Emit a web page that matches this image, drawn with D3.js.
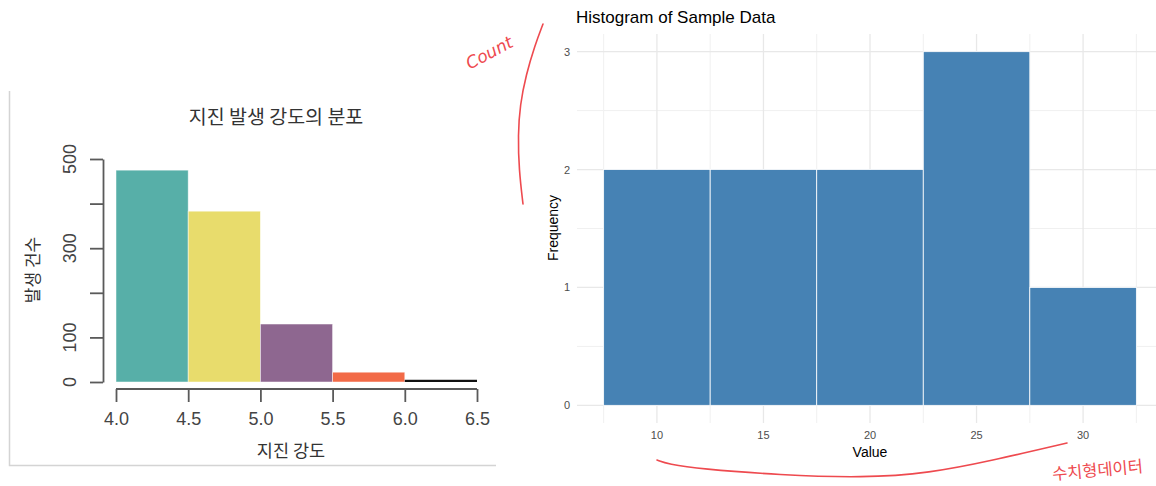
<!DOCTYPE html>
<html>
<head>
<meta charset="utf-8">
<script src="https://cdn.jsdelivr.net/npm/d3@7"></script>
<style>
  body { margin: 0; background: #fff; }
  svg { display: block; }
</style>
</head>
<body>
<div id="chart"></div>
<script>
// left chart data (earthquake magnitudes)
const quakeBreaks = [4.0, 4.5, 5.0, 5.5, 6.0, 6.5];
const quakeCounts = [475, 383, 130, 22, 5];
const quakeColors = ["#57AFA8", "#E8DC6C", "#8E6790", "#F26A47", "#111111"];
const quakeYTicks = [0, 100, 200, 300, 400, 500];
const quakeYLabels = [0, 100, 300, 500];

// right chart data (sample histogram)
const sampleBreaks = [7.5, 12.5, 17.5, 22.5, 27.5, 32.5];
const sampleCounts = [2, 2, 2, 3, 1];
const sampleXTicks = [10, 15, 20, 25, 30];
const sampleYTicks = [0, 1, 2, 3];
const sampleYMinor = [0.5, 1.5, 2.5];

let svgWidth = 1156, svgHeight = 486;
let svg = d3.select("#chart").append("svg")
            .attr("width", svgWidth)
            .attr("height", svgHeight);

// ---------- left chart ----------
let korFont = "'Noto Sans CJK KR', 'Noto Sans', sans-serif";
let numFont = "'Liberation Sans', Arial, sans-serif";
let inkL = "#444";

// screenshot frame
svg.append("path")
   .attr("d", "M9.5,91 V465.5 H496")
   .attr("fill", "none")
   .attr("stroke", "#d4d4d4")
   .attr("stroke-width", 1.5);

let xL = d3.scaleLinear().domain([4.0, 6.5]).range([116, 477]);
let yL = d3.scaleLinear().domain([0, 500]).range([382, 159]);

let quakeBins = quakeCounts.map((c, i) => ({x0: quakeBreaks[i], x1: quakeBreaks[i + 1], n: c, col: quakeColors[i]}));

svg.append("g").selectAll("rect")
   .data(quakeBins)
   .enter()
   .append("rect")
   .attr("x", d => xL(d.x0))
   .attr("y", d => yL(d.n))
   .attr("width", d => xL(d.x1) - xL(d.x0))
   .attr("height", d => yL(0) - yL(d.n))
   .attr("fill", d => d.col)
   .attr("stroke", d => d.col === "#111111" ? "none" : "rgba(255,255,255,0.6)")
   .attr("stroke-width", 0.8);

// y axis (base R style, rotated labels)
let yAxisL = svg.append("g").attr("transform", "translate(103,0)")
   .call(d3.axisLeft(yL).tickValues(quakeYTicks).tickSize(13).tickSizeOuter(0).tickFormat(""));
yAxisL.selectAll("path, line").attr("stroke", "#5a5a5a").attr("stroke-width", 1.8);

svg.append("g").selectAll("text")
   .data(quakeYLabels)
   .enter()
   .append("text")
   .attr("transform", d => `translate(76,${yL(d)}) rotate(-90)`)
   .attr("text-anchor", "middle")
   .attr("font-family", numFont)
   .attr("font-size", "18px")
   .attr("fill", inkL)
   .text(d => d);

// x axis
let xAxisL = svg.append("g").attr("transform", "translate(0,389)")
   .call(d3.axisBottom(xL).tickValues(quakeBreaks).tickSize(13).tickSizeOuter(0).tickFormat(d3.format(".1f")));
xAxisL.selectAll("path, line").attr("stroke", "#5a5a5a").attr("stroke-width", 1.8);
xAxisL.select(".domain").attr("d", `M${xL(4.0)},0 H${xL(6.5)}`);
xAxisL.selectAll("text")
      .attr("y", 23)
      .attr("font-family", numFont)
      .attr("font-size", "18px")
      .attr("fill", inkL);

svg.append("text")
   .attr("x", 276).attr("y", 124)
   .attr("text-anchor", "middle")
   .attr("font-family", korFont)
   .attr("font-size", "19.5px")
   .attr("fill", "#333")
   .text("지진 발생 강도의 분포");

svg.append("text")
   .attr("x", 291).attr("y", 457)
   .attr("text-anchor", "middle")
   .attr("font-family", korFont)
   .attr("font-size", "17.5px")
   .attr("fill", "#333")
   .text("지진 강도");

svg.append("text")
   .attr("transform", "translate(39,270) rotate(-90)")
   .attr("text-anchor", "middle")
   .attr("font-family", korFont)
   .attr("font-size", "17px")
   .attr("fill", "#333")
   .text("발생 건수");

// ---------- right chart ----------
let xR = d3.scaleLinear().domain([6.25, 33.75]).range([577, 1163]);
let yR = d3.scaleLinear().domain([-0.15, 3.15]).range([423, 34]);
let panel = svg.append("g");

// grid
panel.selectAll(".hminor").data(sampleYMinor).enter().append("line")
     .attr("x1", 577).attr("x2", 1163)
     .attr("y1", d => yR(d)).attr("y2", d => yR(d))
     .attr("stroke", "#f0f0f0").attr("stroke-width", 1);
panel.selectAll(".vminor").data(sampleBreaks).enter().append("line")
     .attr("y1", 34).attr("y2", 423)
     .attr("x1", d => xR(d)).attr("x2", d => xR(d))
     .attr("stroke", "#f0f0f0").attr("stroke-width", 1);
panel.selectAll(".hmajor").data(sampleYTicks).enter().append("line")
     .attr("x1", 577).attr("x2", 1163)
     .attr("y1", d => yR(d)).attr("y2", d => yR(d))
     .attr("stroke", "#e8e8e8").attr("stroke-width", 1.3);
panel.selectAll(".vmajor").data(sampleXTicks).enter().append("line")
     .attr("y1", 34).attr("y2", 423)
     .attr("x1", d => xR(d)).attr("x2", d => xR(d))
     .attr("stroke", "#e8e8e8").attr("stroke-width", 1.3);

let sampleBins = sampleCounts.map((c, i) => ({x0: sampleBreaks[i], x1: sampleBreaks[i + 1], n: c}));
panel.selectAll("rect")
     .data(sampleBins)
     .enter()
     .append("rect")
     .attr("x", d => xR(d.x0))
     .attr("y", d => yR(d.n))
     .attr("width", d => xR(d.x1) - xR(d.x0))
     .attr("height", d => yR(0) - yR(d.n))
     .attr("fill", "steelblue")
     .attr("stroke", "#ffffff")
     .attr("stroke-width", 0.8);

let sansR = "'Liberation Sans', Arial, sans-serif";

svg.append("g").selectAll("text")
   .data(sampleYTicks)
   .enter()
   .append("text")
   .attr("x", 570)
   .attr("y", d => yR(d) + 4)
   .attr("text-anchor", "end")
   .attr("font-family", sansR)
   .attr("font-size", "11px")
   .attr("fill", "#4d4d4d")
   .text(d => d);

svg.append("g").selectAll("text")
   .data(sampleXTicks)
   .enter()
   .append("text")
   .attr("x", d => xR(d))
   .attr("y", 439)
   .attr("text-anchor", "middle")
   .attr("font-family", sansR)
   .attr("font-size", "11px")
   .attr("fill", "#4d4d4d")
   .text(d => d);

svg.append("text")
   .attr("x", 576).attr("y", 23)
   .attr("font-family", sansR)
   .attr("font-size", "17px")
   .attr("fill", "#000")
   .text("Histogram of Sample Data");

svg.append("text")
   .attr("x", 870).attr("y", 457)
   .attr("text-anchor", "middle")
   .attr("font-family", sansR)
   .attr("font-size", "14px")
   .attr("fill", "#000")
   .text("Value");

svg.append("text")
   .attr("transform", "translate(558,228) rotate(-90)")
   .attr("text-anchor", "middle")
   .attr("font-family", sansR)
   .attr("font-size", "14px")
   .attr("fill", "#000")
   .text("Frequency");

// ---------- hand-drawn red notes ----------
let red = "#EE4A4F";
let penLine = d3.line().curve(d3.curveBasis);

svg.append("path")
   .attr("d", penLine([[543, 24], [535, 45], [526, 75], [520, 105], [518, 135], [519, 170], [523, 204]]))
   .attr("fill", "none").attr("stroke", red).attr("stroke-width", 1.6).attr("stroke-linecap", "round");

svg.append("text")
   .attr("transform", "translate(492,58) rotate(-28)")
   .attr("text-anchor", "middle")
   .attr("font-family", "'DejaVu Sans', sans-serif")
   .attr("font-style", "italic")
   .attr("font-size", "17px")
   .attr("fill", red)
   .text("Count");

svg.append("path")
   .attr("d", penLine([[657, 460], [668, 464], [700, 469], [780, 475], [863, 478], [930, 473], [990, 461], [1067, 443]]))
   .attr("fill", "none").attr("stroke", red).attr("stroke-width", 1.6).attr("stroke-linecap", "round");

svg.append("text")
   .attr("transform", "translate(1098,476) rotate(-5)")
   .attr("text-anchor", "middle")
   .attr("font-family", "'Noto Sans CJK KR', sans-serif")
   .attr("font-size", "16.5px")
   .attr("fill", red)
   .text("수치형데이터");
</script>
</body>
</html>
